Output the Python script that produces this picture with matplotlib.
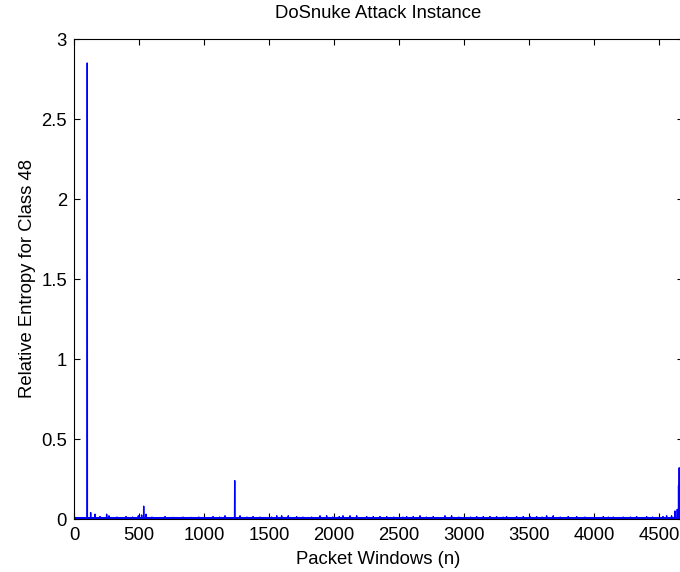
import matplotlib
matplotlib.use("Agg")
import matplotlib.pyplot as plt
import numpy as np

# ---- data ----
title = "DoSnuke Attack Instance"
xlabel = "Packet Windows (n)"
ylabel = "Relative Entropy for Class 48"

n_windows = 4660            # last packet window index
baseline = 0.004            # level of the dense noise floor

spike_x = [102, 128, 162, 200, 251, 269, 330, 400, 450, 495, 520, 536, 554, 600,
           700, 760, 838, 900, 960, 1069, 1120, 1161, 1236, 1277, 1330, 1377,
           1430, 1520, 1559, 1597, 1648, 1712, 1760, 1828, 1892, 1943, 1990,
           2040, 2069, 2123, 2174, 2251, 2302, 2353, 2405, 2460, 2530, 2558,
           2609, 2661, 2710, 2763, 2853, 2904, 2960, 3050, 3097, 3148, 3199,
           3250, 3300, 3327, 3404, 3455, 3507, 3558, 3600, 3635, 3686, 3740,
           3801, 3866, 3930, 4071, 4110, 4148, 4224, 4280, 4327, 4404, 4450,
           4530, 4558, 4596, 4622, 4640, 4650, 4655]
spike_y = [2.85, 0.04, 0.03, 0.015, 0.03, 0.02, 0.012, 0.015, 0.012, 0.02, 0.025,
           0.08, 0.03, 0.012, 0.015, 0.01, 0.012, 0.01, 0.012, 0.015, 0.012,
           0.02, 0.24, 0.02, 0.012, 0.015, 0.012, 0.012, 0.02, 0.02, 0.02, 0.015,
           0.012, 0.012, 0.02, 0.02, 0.012, 0.015, 0.02, 0.02, 0.02, 0.015,
           0.015, 0.015, 0.015, 0.012, 0.012, 0.015, 0.015, 0.02, 0.012, 0.015,
           0.02, 0.02, 0.012, 0.012, 0.015, 0.015, 0.015, 0.015, 0.012, 0.015,
           0.015, 0.015, 0.015, 0.015, 0.012, 0.02, 0.02, 0.012, 0.015, 0.015,
           0.012, 0.015, 0.012, 0.012, 0.012, 0.012, 0.015, 0.015, 0.012, 0.015,
           0.02, 0.02, 0.05, 0.06, 0.21, 0.32]

xticks = [0, 500, 1000, 1500, 2000, 2500, 3000, 3500, 4000, 4500]
yticks = [0, 0.5, 1, 1.5, 2, 2.5, 3]
ytick_labels = ["0", "0.5", "1", "1.5", "2", "2.5", "3"]

# ---- build the trace: noise floor with spikes ----
xs = [1]
ys = [baseline]
for sx, sy in zip(spike_x, spike_y):
    xs += [sx - 1, sx, sx + 1]
    ys += [baseline, sy, baseline]
xs.append(n_windows)
ys.append(baseline)

plt.rcParams['font.family'] = ['Liberation Sans', 'DejaVu Sans']
fs = 13.3

fig = plt.figure(figsize=(6.8, 5.72), dpi=100)
fig.patch.set_facecolor("white")
ax = fig.add_axes([74 / 680, 53 / 572, 609 / 680, 480 / 572])

ax.plot([1, n_windows], [baseline, baseline], color="#0000ff", lw=2.2,
        solid_capstyle="butt")
ax.plot(xs, ys, color="#0000ff", lw=1.0)

ax.set_xlim(0, 4684)
ax.set_ylim(0, 3)
ax.set_xticks(xticks)
ax.set_xticklabels([str(t) for t in xticks])
ax.set_yticks(yticks)
ax.set_yticklabels(ytick_labels)

ax.tick_params(direction="in", length=4, width=0.8, top=True, right=True,
               labelsize=fs, colors="black", pad=5)
ax.tick_params(axis="x", pad=6)
for s in ax.spines.values():
    s.set_linewidth(0.8)
    s.set_color("black")

ax.set_title(title, fontsize=fs, pad=15)
ax.set_xlabel(xlabel, fontsize=fs, labelpad=5)
ax.set_ylabel(ylabel, fontsize=fs, labelpad=4)

fig.savefig("out.png", dpi=100, facecolor="white")
